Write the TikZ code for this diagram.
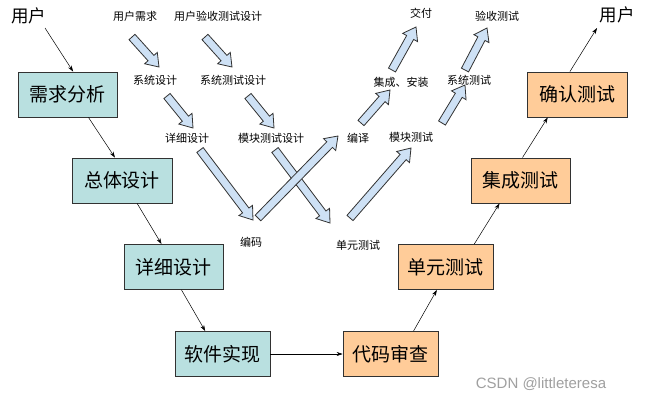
\documentclass[tikz,border=0pt]{standalone}
\usepackage{fontspec}
\newfontfamily\cjk{Noto Sans CJK SC}
\setmainfont{Liberation Sans}
\usetikzlibrary{calc,arrows.meta}
\definecolor{boxblue}{RGB}{185,224,224}
\definecolor{boxorange}{RGB}{255,204,153}
\definecolor{arrblue}{RGB}{206,225,245}
\definecolor{edgegray}{RGB}{50,50,50}
\definecolor{wmgray}{RGB}{160,160,160}
\newcommand{\blockarrow}[2]{%
  \coordinate (ba-c) at ($(#2)!12pt!(#1)$);
  \path[barrowstyle] ($(#1)!4pt!90:(#2)$) -- ($(ba-c)!4pt!-90:(#1)$) -- ($(ba-c)!8.5pt!-90:(#1)$) -- (#2) -- ($(ba-c)!8.5pt!90:(#1)$) -- ($(ba-c)!4pt!90:(#1)$) -- ($(#1)!4pt!-90:(#2)$) -- cycle;}
\tikzset{
  bigbox/.style={draw=edgegray, line width=0.9pt, minimum height=45pt, inner sep=0pt, font=\cjk\fontsize{19}{19}\selectfont},
  bluebox/.style={bigbox, fill=boxblue},
  orangebox/.style={bigbox, fill=boxorange},
  smalllabel/.style={font=\cjk\fontsize{11}{11}\selectfont, inner sep=1pt},
  userlabel/.style={font=\cjk\fontsize{17.5}{17.5}\selectfont, inner sep=1pt},
  thinarrow/.style={draw=black, line width=0.5pt, -{Stealth[length=6pt,width=4pt]}},
  barrowstyle/.style={draw=edgegray, line width=0.8pt, fill=arrblue, line join=miter},
}
\begin{document}
\begin{tikzpicture}[x=1pt,y=-1pt]
\useasboundingbox[fill=white] (0,0) rectangle (649,400);
% users
\node[userlabel] (u1) at (29,16) {用户};
\node[userlabel] (u2) at (617,15) {用户};
\coordinate (u1s) at (45,28);
\coordinate (u2e) at (597,28);
% boxes
\node[bluebox, minimum width=99pt] (xq) at (67.5,94.5) {需求分析};
\node[bluebox, minimum width=100pt] (zt) at (122,180.5) {总体设计};
\node[bluebox, minimum width=99pt] (xx) at (173.5,267) {详细设计};
\node[bluebox, minimum width=95pt] (rj) at (222.5,354) {软件实现};
\node[orangebox, minimum width=95pt] (dm) at (390.5,354) {代码审查};
\node[orangebox, minimum width=95pt] (dy) at (445.5,267) {单元测试};
\node[orangebox, minimum width=99pt] (jc) at (520.5,180.5) {集成测试};
\node[orangebox, minimum width=100pt] (qr) at (577,94.5) {确认测试};
% thin connectors
\draw[thinarrow] (u1s) -- ($(xq.north west)!0.556!(xq.north east)$);
\draw[thinarrow] ($(xq.south west)!0.71!(xq.south east)$) -- ($(zt.north west)!0.43!(zt.north east)$);
\draw[thinarrow] ($(zt.south west)!0.65!(zt.south east)$) -- ($(xx.north west)!0.38!(xx.north east)$);
\draw[thinarrow] ($(xx.south west)!0.58!(xx.south east)$) -- ($(rj.north west)!0.32!(rj.north east)$);
\draw[thinarrow] (rj.east) -- (dm.west);
\draw[thinarrow] ($(dm.north west)!0.74!(dm.north east)$) -- ($(dy.south west)!0.41!(dy.south east)$);
\draw[thinarrow] ($(dy.north west)!0.80!(dy.north east)$) -- ($(jc.south west)!0.29!(jc.south east)$);
\draw[thinarrow] ($(jc.north west)!0.52!(jc.north east)$) -- ($(qr.south west)!0.21!(qr.south east)$);
\draw[thinarrow] ($(qr.north west)!0.43!(qr.north east)$) -- (u2e);
% small labels
\node[smalllabel] (l1) at (135,16) {用户需求};
\node[smalllabel] (l2) at (218,16) {用户验收测试设计};
\node[smalllabel] (l3) at (155,80) {系统设计};
\node[smalllabel] (l4) at (233,80) {系统测试设计};
\node[smalllabel] (l5) at (187,138) {详细设计};
\node[smalllabel] (l6) at (271,138) {模块测试设计};
\node[smalllabel] (l7) at (251,242) {编码};
\node[smalllabel] (l8) at (358,245) {单元测试};
\node[smalllabel] (l9) at (358,138) {编译};
\node[smalllabel] (l10) at (411,137) {模块测试};
\node[smalllabel] (l11) at (401,82) {集成、安装};
\node[smalllabel] (l12) at (469,80) {系统测试};
\node[smalllabel] (l13) at (421,13) {交付};
\node[smalllabel] (l14) at (497,16) {验收测试};
% block arrow end points
\coordinate (a1t) at (132,37);  \coordinate (a1h) at (159,67);
\coordinate (a2t) at (205,37);  \coordinate (a2h) at (232,67);
\coordinate (a3t) at (167,96);  \coordinate (a3h) at (193,128);
\coordinate (a4t) at (248,96);  \coordinate (a4h) at (274,128);
\coordinate (a5t) at (200,150); \coordinate (a5h) at (253,220);
\coordinate (a6t) at (275,150); \coordinate (a6h) at (330,223);
\coordinate (a7t) at (258,218); \coordinate (a7h) at (338,136);
\coordinate (a8t) at (350,218); \coordinate (a8h) at (411,148);
\coordinate (a9t) at (361,123); \coordinate (a9h) at (390,90);
\coordinate (a10t) at (392,70); \coordinate (a10h) at (416,27);
\coordinate (a11t) at (442,123); \coordinate (a11h) at (465,85);
\coordinate (a12t) at (465,70); \coordinate (a12h) at (487,28);
\blockarrow{a1t}{a1h}
\blockarrow{a2t}{a2h}
\blockarrow{a3t}{a3h}
\blockarrow{a4t}{a4h}
\blockarrow{a5t}{a5h}
\blockarrow{a6t}{a6h}
\blockarrow{a7t}{a7h}
\blockarrow{a8t}{a8h}
\blockarrow{a9t}{a9h}
\blockarrow{a10t}{a10h}
\blockarrow{a11t}{a11h}
\blockarrow{a12t}{a12h}
% watermark
\node[font=\fontsize{15}{15}\selectfont, text=wmgray, inner sep=0pt] (wm) at (541,384) {CSDN @littleteresa};
\end{tikzpicture}
\end{document}
